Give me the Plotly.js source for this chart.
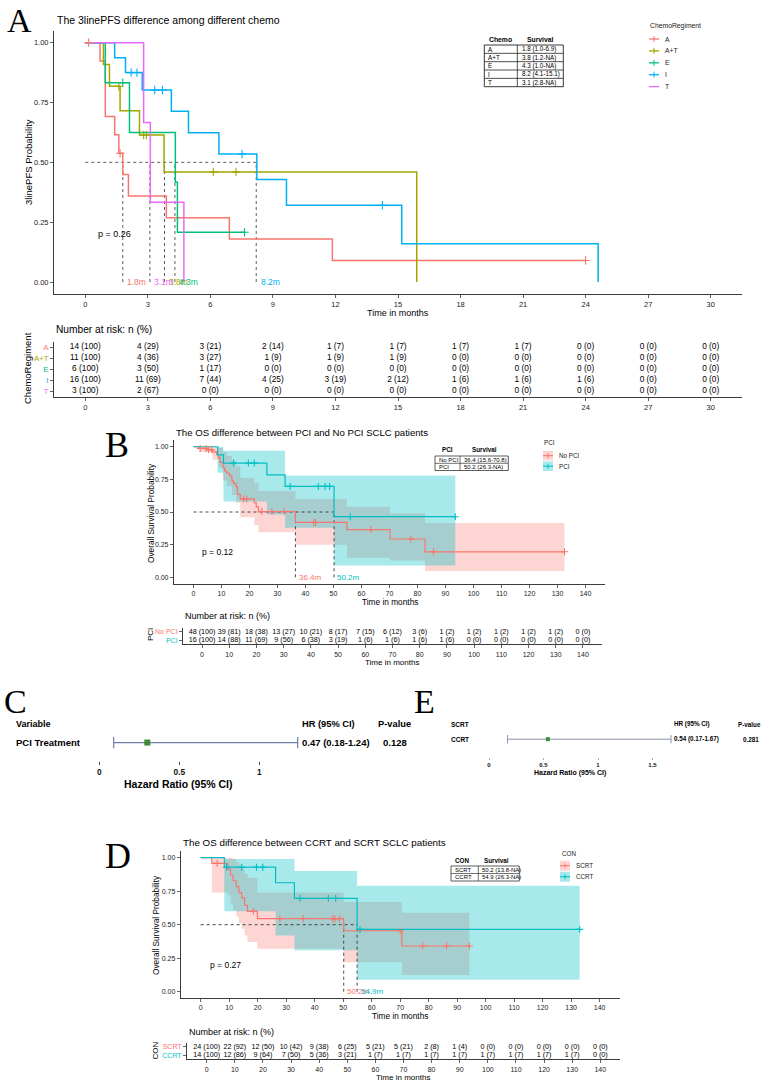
<!DOCTYPE html>
<html><head><meta charset="utf-8">
<script src="https://cdn.plot.ly/plotly-3.0.1.min.js"></script>
<style>html,body{margin:0;padding:0;background:#fff}#chart{width:767px;height:1081px}</style>
</head><body><div id="chart"></div>
<script>
// ================= DATA =================
// ---- Panel A: 3linePFS by chemo regimen ----
const chemoGroups = ['A','A+T','E','I','T'];
const chemoColors = ['#F8766D','#A3A500','#00BF7D','#00B0F6','#E76BF3'];
const A_eventT = [0.71,0.96,1.41,1.61,1.80,2.07,3.89,6.91,11.85];
const A_surv   = [0.923,0.692,0.615,0.538,0.449,0.359,0.269,0.180,0.090];
const A_cens   = [0.16,1.67,24.0];
const A_end    = 24.0;
const AT_eventT = [0.87,1.16,1.67,2.60,3.78,15.9];
const AT_surv   = [0.909,0.818,0.716,0.614,0.460,0];
const AT_cens   = [1.61,2.80,2.93,6.14,7.23];
const AT_end    = 15.9;
const E_eventT = [0.96,2.12,4.32,4.42];
const E_surv   = [0.833,0.625,0.417,0.208];
const E_cens   = [1.80,7.64];
const E_end    = 7.64;
const I_eventT = [1.41,1.93,2.73,4.13,4.95,6.41,8.23,9.65,15.18,24.6];
const I_surv   = [0.9375,0.875,0.802,0.713,0.624,0.535,0.428,0.321,0.160,0];
const I_cens   = [2.20,2.48,3.33,3.70,7.52,14.25];
const I_end    = 24.6;
const T_eventT = [2.80,3.12,4.73];
const T_surv   = [0.667,0.333,0];
const T_cens   = [];
const T_end    = 4.73;
const chemoMedian = [1.8,3.8,4.3,8.2,3.1];
const chemoMedianText = ['1.8m','3.8m','4.3m','8.2m','3.1m'];
const chemoSurvText = ['1.8 (1.0-6.9)','3.8 (1.2-NA)','4.3 (1.0-NA)','8.2 (4.1-15.1)','3.1 (2.8-NA)'];
const pTextA = 'p = 0.26';
const riskTimesA = [0,3,6,9,12,15,18,21,24,27,30];
const riskN_A  = [14,4,3,2,1,1,1,1,0,0,0];
const riskP_A  = [100,29,21,14,7,7,7,7,0,0,0];
const riskN_AT = [11,4,3,1,1,1,0,0,0,0,0];
const riskP_AT = [100,36,27,9,9,9,0,0,0,0,0];
const riskN_E  = [6,3,1,0,0,0,0,0,0,0,0];
const riskP_E  = [100,50,17,0,0,0,0,0,0,0,0];
const riskN_I  = [16,11,7,4,3,2,1,1,1,0,0];
const riskP_I  = [100,69,44,25,19,12,6,6,6,0,0];
const riskN_T  = [3,2,0,0,0,0,0,0,0,0,0];
const riskP_T  = [100,67,0,0,0,0,0,0,0,0,0];

// ---- Panel B: OS PCI vs No PCI ----
const pciGroups = ['No PCI','PCI'];
const pciColors = ['#F8766D','#00BFC4'];
const NP_eventT = [2.0,4.8,6.8,8.2,8.9,9.5,10.5,11.1,11.9,12.9,13.7,14.3,15.2,15.7,16.7,21.7,22.4,23.2,36.4,54.8,70.2,82.7];
const NP_surv   = [0.987,0.977,0.96,0.94,0.918,0.88,0.84,0.815,0.797,0.776,0.738,0.72,0.694,0.635,0.60,0.57,0.54,0.503,0.42,0.365,0.293,0.195];
const NP_cens   = [2.4,4.5,5.4,6.5,17.9,19.0,24.4,28.0,32.4,42.9,43.6,63.3,77.6,85.7,132.5];
const NP_end    = 132.5;
const NP_bandT  = [0,2.0,6.8,8.9,10.5,11.9,13.7,15.2,16.7,21.7,23.2,36.4,54.8,70.2,82.7];
const NP_bandLo = [1,0.96,0.90,0.84,0.74,0.70,0.63,0.57,0.46,0.40,0.345,0.25,0.15,0.128,0.048];
const NP_bandHi = [1,1,1,0.99,0.96,0.93,0.89,0.85,0.76,0.72,0.66,0.60,0.54,0.49,0.416];
const P_eventT = [8.6,10.7,26.2,32.7,50.2];
const P_surv   = [0.9375,0.875,0.784,0.696,0.464];
const P_cens   = [14.3,19.6,21.7,34.5,44.6,47.0,48.6,56.0,93.5];
const P_end    = 93.5;
const P_bandT  = [0,8.6,10.7,26.2,32.7,50.2];
const P_bandLo = [1,0.80,0.58,0.48,0.38,0.09];
const P_bandHi = [1,1,0.97,0.97,0.78,0.78];
const pciMedian = [36.4,50.2];
const pciMedianText = ['36.4m','50.2m'];
const pciSurvText = ['36.4 (15.6-70.8)','50.2 (26.3-NA)'];
const pTextB = 'p = 0.12';
const riskTimesB = [0,10,20,30,40,50,60,70,80,90,100,110,120,130,140];
const riskN_NP = [48,39,18,13,10,8,7,6,3,1,1,1,1,1,0];
const riskP_NP = [100,81,38,27,21,17,15,12,6,2,2,2,2,2,0];
const riskN_P  = [16,14,11,9,6,3,1,1,1,1,0,0,0,0,0];
const riskP_P  = [100,88,69,56,38,19,6,6,6,6,0,0,0,0,0];

// ---- Panel C: forest, PCI treatment (positions as drawn) ----
const cVars = ['PCI Treatment'];
const cHRdrawn = [0.30];
const cLoDrawn = [0.09];
const cHiDrawn = [1.24];
const cHRtext = ['0.47 (0.18-1.24)'];
const cPtext = ['0.128'];
const cTicks = [0,0.5,1];

// ---- Panel E: forest, CCRT vs SCRT ----
const eRef = 'SCRT';
const eVars = ['CCRT'];
const eHR = [0.54];
const eLo = [0.17];
const eHi = [1.67];
const eHRtext = ['0.54 (0.17-1.67)'];
const ePtext = ['0.281'];
const eTicks = [0,0.5,1,1.5];

// ---- Panel D: OS CCRT vs SCRT ----
const conGroups = ['SCRT','CCRT'];
const conColors = ['#F8766D','#00BFC4'];
const S_eventT = [3.9,9.5,10.5,11.4,12.5,13.4,14.4,15.4,16.4,19.9,50.2,70.6];
const S_surv   = [0.958,0.914,0.871,0.828,0.784,0.74,0.70,0.645,0.60,0.545,0.455,0.341];
const S_cens   = [5.8,18.5,27.8,36.0,46.3,47.1,48.7,70.0,77.9,86.3,94.3];
const S_end    = 94.3;
const S_bandT  = [0,3.9,9.5,10.5,11.4,12.5,13.4,14.4,15.4,16.4,19.9,50.2,70.6];
const S_bandLo = [1,0.74,0.72,0.66,0.61,0.56,0.51,0.47,0.42,0.37,0.32,0.22,0.125];
const S_bandHi = [1,1,1,1,0.99,0.97,0.95,0.92,0.88,0.85,0.74,0.67,0.59];
const C_eventT = [8.3,26.3,32.9,54.9];
const C_surv   = [0.929,0.813,0.697,0.465];
const C_cens   = [9.1,14.4,19.6,21.8,34.9,44.8,47.4,55.9,133.0];
const C_end    = 133.0;
const C_bandT  = [0,8.3,26.3,32.9,54.9];
const C_bandLo = [1,0.60,0.42,0.31,0.09];
const C_bandHi = [1,0.99,0.99,0.90,0.79];
const conMedian = [50.2,54.9];
const conMedianText = ['50.2m','54.9m'];
const conSurvText = ['50.2 (13.8-NA)','54.9 (26.3-NA)'];
const pTextD = 'p = 0.27';
const riskTimesD = [0,10,20,30,40,50,60,70,80,90,100,110,120,130,140];
const riskN_S = [24,22,12,10,9,6,5,5,2,1,0,0,0,0,0];
const riskP_S = [100,92,50,42,38,25,21,21,8,4,0,0,0,0,0];
const riskN_C = [14,12,9,7,5,3,1,1,1,1,1,1,1,1,0];
const riskP_C = [100,86,64,50,36,21,7,7,7,7,7,7,7,7,0];

// ================= HELPERS =================
const W = 767, H = 1081;
const F = '"Liberation Sans", Arial, Helvetica, sans-serif';
const FS = '"Liberation Serif", "Times New Roman", serif';
const fx = p => p / W;
const fy = p => 1 - p / H;
const dX = (a, b) => [a / W, b / W];
const dY = (top, bot) => [1 - bot / H, 1 - top / H];
const traces = [], shapes = [], annotations = [];

function txt(x, y, text, size, o) {
  o = o || {};
  annotations.push({
    xref: o.xref || 'paper', yref: o.yref || 'paper',
    x: o.xref ? x : fx(x), y: o.yref ? y : fy(y),
    text: text, showarrow: false,
    xanchor: o.xa || 'left', yanchor: o.ya || 'middle',
    textangle: o.angle || 0,
    font: {family: o.family || F, size: size, color: o.color || '#000'}
  });
}
function seg(x0, y0, x1, y1, color, width, dash, xref, yref) {
  shapes.push({type:'line', xref: xref || 'paper', yref: yref || 'paper',
    x0: xref ? x0 : fx(x0), x1: xref ? x1 : fx(x1),
    y0: yref ? y0 : fy(y0), y1: yref ? y1 : fy(y1),
    line:{color: color, width: width, dash: dash || 'solid'}});
}
function rect(x0, y0, x1, y1, line, fill, lw) {
  shapes.push({type:'rect', xref:'paper', yref:'paper', x0: fx(x0), x1: fx(x1), y0: fy(y0), y1: fy(y1),
    line:{color: line || 'rgba(0,0,0,0)', width: lw || 0.8}, fillcolor: fill || 'rgba(0,0,0,0)'});
}
function survAt(times, surv, t) {
  let s = 1;
  for (let i = 0; i < times.length; i++) if (times[i] <= t) s = surv[i];
  return s;
}
function km(xa, ya, times, surv, end, color, width) {
  const x = [0], y = [1];
  times.forEach((t, i) => { x.push(t); y.push(surv[i]); });
  if (end > x[x.length - 1]) { x.push(end); y.push(y[y.length - 1]); }
  traces.push({type:'scatter', mode:'lines', x, y, xaxis: xa, yaxis: ya,
    line:{color, width, shape:'hv'}, hoverinfo:'skip', showlegend:false});
}
function cens(xa, ya, times, surv, cts, color, size) {
  if (!cts.length) return;
  traces.push({type:'scatter', mode:'markers', x: cts, y: cts.map(t => survAt(times, surv, t)),
    xaxis: xa, yaxis: ya, cliponaxis:false,
    marker:{symbol:'cross-thin', size: size, color, line:{color, width:1.1}},
    hoverinfo:'skip', showlegend:false});
}
function band(xa, ya, starts, lo, hi, end, fill) {
  const x = starts.concat([end]);
  const yh = hi.concat([hi[hi.length - 1]]);
  const yl = lo.concat([lo[lo.length - 1]]);
  traces.push({type:'scatter', mode:'lines', x, y: yh, xaxis: xa, yaxis: ya,
    line:{width:0, color:'rgba(0,0,0,0)', shape:'hv'}, hoverinfo:'skip', showlegend:false});
  traces.push({type:'scatter', mode:'lines', x, y: yl, xaxis: xa, yaxis: ya, fill:'tonexty', fillcolor: fill,
    line:{width:0, color:'rgba(0,0,0,0)', shape:'hv'}, hoverinfo:'skip', showlegend:false});
}
function medianLines(xa, ya, meds, colorH) {
  const mx = Math.max.apply(null, meds);
  traces.push({type:'scatter', mode:'lines', x:[0, mx], y:[0.5, 0.5], xaxis: xa, yaxis: ya,
    line:{color: colorH, width:0.9, dash:'dot'}, hoverinfo:'skip', showlegend:false});
  const vx = [], vy = [];
  meds.forEach(m => { vx.push(m, m, null); vy.push(0, 0.5, null); });
  traces.push({type:'scatter', mode:'lines', x: vx, y: vy, xaxis: xa, yaxis: ya,
    line:{color: colorH, width:0.9, dash:'dot'}, hoverinfo:'skip', showlegend:false});
}
function riskRow(xa, ya, times, ns, ps, row, size) {
  traces.push({type:'scatter', mode:'text', x: times, y: times.map(() => row),
    text: ns.map((n, i) => n + ' (' + ps[i] + ')'), textposition:'middle center',
    textfont:{family:F, size: size, color:'#000'}, xaxis: xa, yaxis: ya, cliponaxis:false,
    hoverinfo:'skip', showlegend:false});
}
function axis(extra) {
  return Object.assign({showgrid:false, zeroline:false, showline:true, linecolor:'#3c3c3c', linewidth:1,
    ticks:'outside', ticklen:3, tickwidth:0.8, tickcolor:'#3c3c3c',
    tickfont:{family:F, size:7.5, color:'#222'}, fixedrange:true}, extra);
}
const colored = (labels, colors) => labels.map((g, i) => '<span style="color:' + colors[i] + '">' + g + '</span>');
const probTicks = {tickvals:[0,0.25,0.5,0.75,1], ticktext:['0.00','0.25','0.50','0.75','1.00']};

// ================= PANEL A =================
const aData = [
  [A_eventT, A_surv, A_cens, A_end],
  [AT_eventT, AT_surv, AT_cens, AT_end],
  [E_eventT, E_surv, E_cens, E_end],
  [I_eventT, I_surv, I_cens, I_end],
  [T_eventT, T_surv, T_cens, T_end]
];
medianLines('x', 'y', chemoMedian, '#4a4a4a');
aData.forEach((d, i) => km('x', 'y', d[0], d[1], d[3], chemoColors[i], 1.5));
aData.forEach((d, i) => cens('x', 'y', d[0], d[1], d[2], chemoColors[i], 6));
chemoMedian.forEach((m, i) => txt(m + 0.12, 0, chemoMedianText[i], 8.5, {xref:'x', yref:'y', color: chemoColors[i]}));
txt(0.5, 0.2, pTextA, 9, {xref:'x', yref:'y'});

const riskA = [[riskN_A, riskP_A],[riskN_AT, riskP_AT],[riskN_E, riskP_E],[riskN_I, riskP_I],[riskN_T, riskP_T]];
riskA.forEach((r, i) => riskRow('x2', 'y2', riskTimesA, r[0], r[1], 5 - i, 8.3));

// titles / labels A
txt(5, 21, 'A', 34, {family: FS});
txt(55, 20, 'The 3linePFS difference among different chemo', 10.5);
txt(28, 162, '3linePFS Probability', 9.5, {xa:'center', angle:-90});
txt(398, 313, 'Time in months', 9, {xa:'center'});
txt(54, 330, 'Number at risk: n (%)', 10.2);
txt(27, 368, 'ChemoRegiment', 9.5, {xa:'center', angle:-90});

// A legend
txt(648, 26, 'ChemoRegiment', 6.8, {color:'#222'});
chemoGroups.forEach((g, i) => {
  const yy = 39 + i * 11.9;
  seg(649, yy, 659, yy, chemoColors[i], 1.3);
  if (i < 4) seg(654, yy - 3, 654, yy + 3, chemoColors[i], 1);
  txt(663, yy, g, 6.8, {color:'#222'});
});
// A median table
txt(500.7, 39.5, '<b>Chemo</b>', 6.8, {xa:'center'});
txt(540, 39.5, '<b>Survival</b>', 6.8, {xa:'center'});
rect(484.3, 45, 563.3, 86.7, '#222', null, 0.9);
seg(517.3, 45, 517.3, 86.7, '#222', 0.8);
chemoGroups.forEach((g, i) => {
  const y0 = 45 + i * 8.34;
  if (i > 0) seg(484.3, y0, 563.3, y0, '#222', 0.8);
  txt(486, y0 + 4.2, g, 6.3);
  txt(520, y0 + 4.2, chemoSurvText[i], 6.3);
});

// ================= PANEL B =================
band('x3', 'y3', NP_bandT, NP_bandLo, NP_bandHi, NP_end, 'rgba(248,118,109,0.30)');
band('x3', 'y3', P_bandT, P_bandLo, P_bandHi, P_end, 'rgba(0,191,196,0.34)');
medianLines('x3', 'y3', pciMedian, '#333');
km('x3', 'y3', NP_eventT, NP_surv, NP_end, pciColors[0], 1.2);
km('x3', 'y3', P_eventT, P_surv, P_end, pciColors[1], 1.2);
cens('x3', 'y3', NP_eventT, NP_surv, NP_cens, pciColors[0], 5);
cens('x3', 'y3', P_eventT, P_surv, P_cens, pciColors[1], 5);
pciMedian.forEach((m, i) => txt(m + 0.5, 0, pciMedianText[i], 8, {xref:'x3', yref:'y3', color: pciColors[i]}));
txt(2.4, 0.19, pTextB, 8.5, {xref:'x3', yref:'y3'});
riskRow('x4', 'y4', riskTimesB, riskN_NP, riskP_NP, 2, 7.2);
riskRow('x4', 'y4', riskTimesB, riskN_P, riskP_P, 1, 7.2);

txt(103, 445, 'B', 36, {family: FS});
txt(174, 432, 'The OS difference between PCI and No PCI SCLC patients', 9.6);
txt(151, 513, 'Overall Survival Probability', 8.3, {xa:'center', angle:-90});
txt(390, 602, 'Time in months', 8.3, {xa:'center'});
txt(183, 616, 'Number at risk: n (%)', 9);
txt(150, 635, 'PCI', 8, {xa:'center', angle:-90});
txt(392, 662, 'Time in months', 8, {xa:'center'});
// B legend
txt(542, 443, 'PCI', 6.3, {color:'#222'});
[['rgba(248,118,109,0.30)', 455.7], ['rgba(0,191,196,0.34)', 466.2]].forEach((k, i) => {
  rect(543, k[1] - 4.8, 553, k[1] + 4.8, null, k[0]);
  seg(543, k[1], 553, k[1], pciColors[i], 1.1);
  seg(548, k[1] - 2.5, 548, k[1] + 2.5, pciColors[i], 0.9);
  txt(556.5, k[1], pciGroups[i], 6.3, {color:'#222'});
});
// B median table
txt(447.7, 450, '<b>PCI</b>', 6.3, {xa:'center'});
txt(484, 450, '<b>Survival</b>', 6.3, {xa:'center'});
rect(435, 456, 508.3, 470.5, '#333', null, 0.8);
seg(460, 456, 460, 470.5, '#333', 0.7);
seg(435, 463.3, 508.3, 463.3, '#333', 0.7);
pciGroups.forEach((g, i) => {
  txt(436.5, 459.7 + i * 7.2, g, 6);
  txt(462, 459.7 + i * 7.2, pciSurvText[i], 6);
});

// ================= PANEL C =================
txt(2, 701, 'C', 34, {family: FS});
txt(14, 724, '<b>Variable</b>', 9);
txt(300, 724, '<b>HR (95% CI)</b>', 9.3);
txt(376, 724, '<b>P-value</b>', 9.3);
cVars.forEach((v, i) => {
  txt(14, 742.7, '<b>' + v + '</b>', 9.5);
  txt(300, 742.7, '<b>' + cHRtext[i] + '</b>', 9.5);
  txt(381, 742.7, '<b>' + cPtext[i] + '</b>', 9.5);
});
seg(0.5, 733, 0.5, 753, '#c8c8c8', 0.9, 'dash', 'x7', 'paper');
seg(1, 727, 1, 758, '#ef9a5c', 1.2, 'solid', 'x7', 'paper');
seg(0, 761, 1, 761, '#222', 1.3, 'solid', 'x7', 'paper');
traces.push({type:'scatter', mode:'lines', x:[cLoDrawn[0], cHiDrawn[0]], y:[0.45, 0.45], xaxis:'x7', yaxis:'y7',
  line:{color:'#6d7fa8', width:1.2}, hoverinfo:'skip', showlegend:false});
traces.push({type:'scatter', mode:'markers', x:[cLoDrawn[0], cHiDrawn[0]], y:[0.45, 0.45], xaxis:'x7', yaxis:'y7',
  marker:{symbol:'line-ns', size:8, line:{color:'#6d7fa8', width:1.2}}, cliponaxis:false, hoverinfo:'skip', showlegend:false});
traces.push({type:'scatter', mode:'markers', x: cHRdrawn, y:[0.45], xaxis:'x7', yaxis:'y7',
  marker:{symbol:'square', size:6, color:'#3d8b3d'}, cliponaxis:false, hoverinfo:'skip', showlegend:false});
txt(178, 784, '<b>Hazard Ratio (95% CI)</b>', 10.5, {xa:'center'});

// ================= PANEL E =================
txt(412, 701, 'E', 34, {family: FS});
txt(449, 724, '<b>' + eRef + '</b>', 6.5);
txt(672, 724, '<b>HR (95% CI)</b>', 6.3);
txt(736, 724, '<b>P-value</b>', 6.3);
eVars.forEach((v, i) => {
  txt(449, 739.3, '<b>' + v + '</b>', 6.5);
  txt(672, 739.3, '<b>' + eHRtext[i] + '</b>', 6.3);
  txt(741, 739.3, '<b>' + ePtext[i] + '</b>', 6.3);
});
seg(1, 732.5, 1, 751, '#ef8a4c', 1.0, 'solid', 'x8', 'paper');
seg(0, 756.7, 1.5, 756.7, '#c4c4c4', 1.6, 'solid', 'x8', 'paper');
traces.push({type:'scatter', mode:'lines', x:[eLo[0], eHi[0]], y:[0.43, 0.43], xaxis:'x8', yaxis:'y8',
  line:{color:'#8a93b0', width:1}, hoverinfo:'skip', showlegend:false});
traces.push({type:'scatter', mode:'markers', x:[eLo[0], eHi[0]], y:[0.43, 0.43], xaxis:'x8', yaxis:'y8',
  marker:{symbol:'line-ns', size:6, line:{color:'#8a93b0', width:1}}, cliponaxis:false, hoverinfo:'skip', showlegend:false});
traces.push({type:'scatter', mode:'markers', x: eHR, y:[0.43], xaxis:'x8', yaxis:'y8',
  marker:{symbol:'square', size:4, color:'#3d8b3d'}, cliponaxis:false, hoverinfo:'skip', showlegend:false});
txt(570, 773, '<b>Hazard Ratio (95% CI)</b>', 7, {xa:'center'});

// ================= PANEL D =================
band('x5', 'y5', S_bandT, S_bandLo, S_bandHi, S_end, 'rgba(248,118,109,0.30)');
band('x5', 'y5', C_bandT, C_bandLo, C_bandHi, C_end, 'rgba(0,191,196,0.34)');
medianLines('x5', 'y5', conMedian, '#333');
km('x5', 'y5', S_eventT, S_surv, S_end, conColors[0], 1.2);
km('x5', 'y5', C_eventT, C_surv, C_end, conColors[1], 1.2);
cens('x5', 'y5', S_eventT, S_surv, S_cens, conColors[0], 5);
cens('x5', 'y5', C_eventT, C_surv, C_cens, conColors[1], 5);
conMedian.forEach((m, i) => txt(m + 0.6, 0, conMedianText[i], 8, {xref:'x5', yref:'y5', color: conColors[i]}));
txt(2.7, 0.2, pTextD, 8.5, {xref:'x5', yref:'y5'});
riskRow('x6', 'y6', riskTimesD, riskN_S, riskP_S, 2, 7.2);
riskRow('x6', 'y6', riskTimesD, riskN_C, riskP_C, 1, 7.2);

txt(103, 856, 'D', 36, {family: FS});
txt(181, 842, 'The OS difference between CCRT and SCRT SCLC patients', 9.8);
txt(156, 925, 'Overall Survival Probability', 8.3, {xa:'center', angle:-90});
txt(400, 1015.5, 'Time in months', 8.3, {xa:'center'});
txt(187, 1032, 'Number at risk: n (%)', 9);
txt(155, 1050.5, 'CON', 8, {xa:'center', angle:-90});
txt(403, 1077, 'Time in months', 8, {xa:'center'});
// D legend
txt(560, 853.3, 'CON', 6.3, {color:'#222'});
[['rgba(248,118,109,0.30)', 865.7], ['rgba(0,191,196,0.34)', 876.7]].forEach((k, i) => {
  rect(560, k[1] - 5, 570, k[1] + 5, null, k[0]);
  seg(560, k[1], 570, k[1], conColors[i], 1.1);
  seg(565, k[1] - 2.5, 565, k[1] + 2.5, conColors[i], 0.9);
  txt(574, k[1], conGroups[i], 6.3, {color:'#222'});
});
// D median table
txt(461.7, 860, '<b>CON</b>', 6.3, {xa:'center'});
txt(496.7, 860, '<b>Survival</b>', 6.3, {xa:'center'});
rect(451, 866, 519.3, 881, '#333', null, 0.8);
seg(478.3, 866, 478.3, 881, '#333', 0.7);
seg(451, 873.5, 519.3, 873.5, '#333', 0.7);
conGroups.forEach((g, i) => {
  txt(452.5, 869.8 + i * 7.5, g, 6);
  txt(480, 869.8 + i * 7.5, conSurvText[i], 6);
});

// ================= LAYOUT =================
const layout = {
  width: W, height: H, margin:{l:0, r:0, t:0, b:0},
  paper_bgcolor:'#ffffff', plot_bgcolor:'rgba(0,0,0,0)', showlegend:false,
  font:{family:F, color:'#000'},
  xaxis:  axis({domain: dX(54, 742), range:[-1.5, 31.5], tickvals: riskTimesA, anchor:'y'}),
  yaxis:  axis(Object.assign({domain: dY(30.7, 294), range:[-0.05, 1.05], anchor:'x'}, probTicks)),
  xaxis2: axis({domain: dX(54, 742), range:[-1.5, 31.5], tickvals: riskTimesA, anchor:'y2'}),
  yaxis2: axis({domain: dY(341.7, 396.7), range:[0.5, 5.5], tickvals:[5,4,3,2,1],
                ticktext: colored(chemoGroups, chemoColors), anchor:'x2', tickfont:{family:F, size:7.8}}),
  xaxis3: axis({domain: dX(173.9, 605.1), range:[-7, 147], tickvals: riskTimesB, anchor:'y3', tickfont:{family:F, size:7, color:'#222'}}),
  yaxis3: axis(Object.assign({domain: dY(440.2, 583.8), range:[-0.05, 1.05], anchor:'x3', tickfont:{family:F, size:7, color:'#222'}}, probTicks)),
  xaxis4: axis({domain: dX(183, 602), range:[-7, 147], tickvals: riskTimesB, anchor:'y4', tickfont:{family:F, size:7, color:'#222'}}),
  yaxis4: axis({domain: dY(627.6, 644.2), range:[0.5, 2.5], tickvals:[2,1],
                ticktext: colored(pciGroups, pciColors), anchor:'x4', tickfont:{family:F, size:7}}),
  xaxis5: axis({domain: dX(180.7, 619.6), range:[-7, 147], tickvals: riskTimesD, anchor:'y5', ticklen:2.5, tickfont:{family:F, size:7, color:'#222'}}),
  yaxis5: axis(Object.assign({domain: dY(851, 998.4), range:[-0.05, 1.05], anchor:'x5', tickfont:{family:F, size:7, color:'#222'}}, probTicks)),
  xaxis6: axis({domain: dX(187, 620), range:[-7, 147], tickvals: riskTimesD, anchor:'y6', tickfont:{family:F, size:7, color:'#222'}}),
  yaxis6: axis({domain: dY(1042.7, 1059.3), range:[0.5, 2.5], tickvals:[2,1],
                ticktext: colored(conGroups, conColors), anchor:'x6', tickfont:{family:F, size:7}}),
  xaxis7: axis({domain: dX(51.3, 339.3), range:[-0.3, 1.5], showline:false, tickvals: cTicks,
                ticktext: cTicks.map(v => '<b>' + v + '</b>'), ticklen:3, tickcolor:'#222', anchor:'y7',
                tickfont:{family:F, size:8.3, color:'#111'}}),
  yaxis7: {domain: dY(720, 761), range:[0, 1], visible:false, fixedrange:true, anchor:'x7'},
  xaxis8: axis({domain: dX(434.5, 707), range:[-0.5, 2.0], showline:false, tickvals: eTicks,
                ticktext: eTicks.map(v => '<b>' + v + '</b>'), ticklen:2.5, tickcolor:'#999', anchor:'y8',
                tickfont:{family:F, size:6, color:'#111'}}),
  yaxis8: {domain: dY(716, 756.7), range:[0, 1], visible:false, fixedrange:true, anchor:'x8'},
  shapes: shapes,
  annotations: annotations
};
Plotly.newPlot('chart', traces, layout, {displayModeBar:false, staticPlot:true});
</script>
</body></html>
